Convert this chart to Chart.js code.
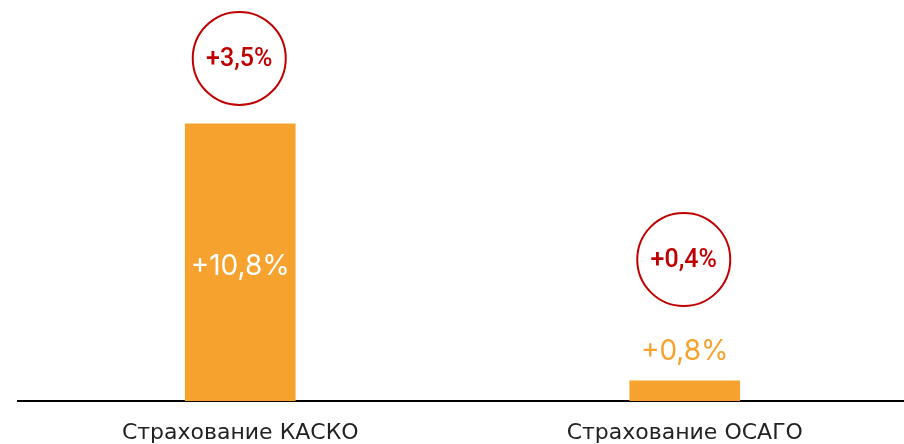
<!DOCTYPE html>
<html>
<head>
<meta charset="utf-8">
<script src="https://cdn.jsdelivr.net/npm/chart.js@4"></script>
<style>
  html, body { margin: 0; padding: 0; background: #fff; overflow: hidden; width: 904px; height: 444px; }
  canvas { display: block; }
</style>
</head>
<body>
<canvas id="insChart" width="907" height="444"></canvas>
<script>
const categories = ['Страхование КАСКО', 'Страхование ОСАГО'];
const growthValues = [10.8, 0.8];
const growthLabels = ['+10,8%', '+0,8%'];
const circleLabels = ['+3,5%', '+0,4%'];

const ORANGE = '#F5A22F';
const RED = '#C00000';

// value labels + red circles above bars
const labelsPlugin = {
    id: 'barLabels',
    afterDatasetsDraw(chart) {
        const ctx = chart.ctx;
        const meta = chart.getDatasetMeta(0);
        meta.data.forEach((bar, i) => {
            const h = bar.base - bar.y;
            const inside = h > 60;
            let labelY, circleY;
            if (inside) {
                labelY = bar.y + h / 2 + 4;
                circleY = bar.y - 65;
            } else {
                labelY = bar.y - 29;
                circleY = bar.y - 121;
            }
            ctx.save();
            ctx.textAlign = 'center';
            ctx.textBaseline = 'middle';
            ctx.font = '400 28px Inter';
            ctx.fillStyle = inside ? '#fff' : ORANGE;
            ctx.fillText(growthLabels[i], bar.x, labelY);

            ctx.beginPath();
            ctx.arc(bar.x - 1, circleY, 46.5, 0, Math.PI * 2);
            ctx.lineWidth = 2;
            ctx.strokeStyle = RED;
            ctx.stroke();
            ctx.font = '500 25px Roboto';
            ctx.fillStyle = RED;
            ctx.fillText(circleLabels[i], bar.x - 1, circleY + 1);
            ctx.restore();
        });
    }
};

new Chart(document.getElementById('insChart'), {
    type: 'bar',
    data: {
        labels: categories,
        datasets: [{
            data: growthValues,
            backgroundColor: ORANGE,
            borderWidth: 0,
            barPercentage: 0.249,
            categoryPercentage: 1
        }]
    },
    options: {
        responsive: false,
        animation: false,
        layout: { padding: { left: 18, right: 0, top: 0, bottom: 0 } },
        plugins: {
            legend: { display: false },
            tooltip: { enabled: false }
        },
        scales: {
            x: {
                grid: { display: false, tickLength: 22 },
                border: { display: true, color: '#000', width: 2 },
                ticks: {
                    color: '#222',
                    padding: 0,
                    maxRotation: 0,
                    font: { family: 'DejaVu Sans', size: 22, lineHeight: 0.95 }
                }
            },
            y: {
                display: false,
                min: 0,
                max: 15.6
            }
        }
    },
    plugins: [labelsPlugin]
});
</script>
</body>
</html>
